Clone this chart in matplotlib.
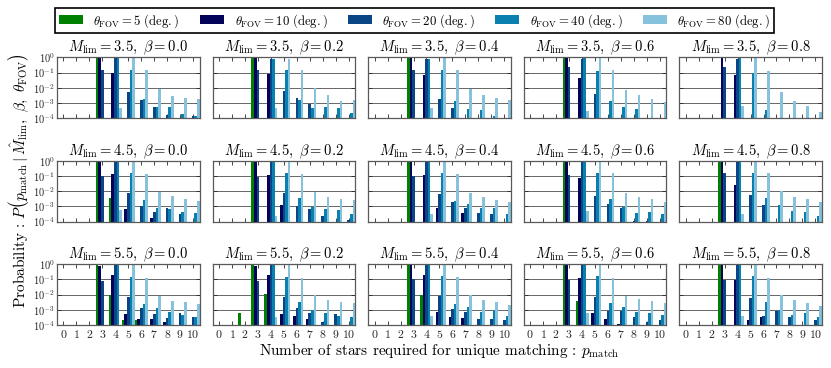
import numpy as np
import matplotlib
matplotlib.use('Agg')
import matplotlib.pyplot as plt

# LaTeX-like look without a TeX install
plt.rcParams.update({
    "font.family": "serif",
    "font.serif": ["cmr10"],
    "mathtext.fontset": "cm",
    "axes.formatter.use_mathtext": True,
    "axes.unicode_minus": False,
})

# ---------------------------------------------------------------------------------------------- #

p_match = np.arange(11)                 # number of stars required (x categories)
m_lim = [3.5, 4.5, 5.5]                 # rows
betas = [0.0, 0.2, 0.4, 0.6, 0.8]       # columns
fov = [5, 10, 20, 40, 80]               # series (deg.)
fov_colors = ['#008000', '#03035a', '#0a4585', '#0a80b0', '#86c2dc']

# Probabilities per panel: one row per FOV (5, 10, 20, 40, 80 deg.), one value per p_match (0..10)
P_35_00 = [[0, 0, 0, 1.0, 0, 0, 0, 0, 0, 0, 0],
           [0, 0, 0, 0.9, 0.09, 0, 0, 0, 0, 0, 0],
           [0, 0, 0, 0.14, 0.85, 5e-3, 1.5e-3, 5.6e-4, 1.7e-4, 0, 1.5e-4],
           [0, 0, 0, 0, 0.85, 0.16, 1.8e-3, 5.6e-4, 5.5e-4, 2e-4, 1.5e-4],
           [0, 0, 0, 0, 4.4e-4, 0.88, 0.14, 8.5e-3, 3e-3, 2e-3, 1.8e-3]]
P_35_02 = [[0, 0, 0, 1.0, 0, 0, 0, 0, 0, 0, 0],
           [0, 0, 0, 0.9, 0.087, 0, 0, 0, 0, 0, 0],
           [0, 0, 0, 0.16, 0.84, 5.8e-3, 2.1e-3, 8.6e-4, 0, 0, 0],
           [0, 0, 0, 0, 0.84, 0.16, 1.5e-3, 5e-4, 5.5e-4, 4.5e-4, 2.2e-4],
           [0, 0, 0, 0, 4.6e-4, 0.82, 0.15, 9.6e-3, 3.2e-3, 1.4e-3, 1.7e-3]]
P_35_04 = [[0, 0, 0, 1.0, 0, 0, 0, 0, 0, 0, 0],
           [0, 0, 0, 0.93, 0.072, 0, 0, 0, 0, 0, 0],
           [0, 0, 0, 0.16, 0.84, 1.9e-3, 4.6e-4, 0, 0, 1.1e-4, 0],
           [0, 0, 0, 0, 0.84, 0.15, 1.45e-3, 4e-4, 3.4e-4, 1.3e-4, 0],
           [0, 0, 0, 0, 4.4e-4, 0.86, 0.15, 8e-3, 3.2e-3, 2.3e-3, 1.6e-3]]
P_35_06 = [[0, 0, 0, 1.0, 0, 0, 0, 0, 0, 0, 0],
           [0, 0, 0, 0.96, 0.043, 0, 0, 0, 0, 0, 0],
           [0, 0, 0, 0.23, 0.77, 4e-3, 0, 0, 0, 0, 0],
           [0, 0, 0, 0, 0.88, 0.12, 1.4e-3, 5.3e-4, 4.2e-4, 0, 0],
           [0, 0, 0, 0, 2.9e-4, 0.85, 0.14, 7e-3, 3.5e-3, 1.8e-3, 1.2e-3]]
P_35_08 = [[0, 0, 0, 0, 0, 0, 0, 0, 0, 0, 0],
           [0, 0, 0, 0.93, 0.069, 0, 0, 0, 0, 0, 0],
           [0, 0, 0, 0.22, 0.78, 0, 0, 0, 0, 0, 0],
           [0, 0, 0, 0, 0.9, 0.1, 3.4e-4, 0, 0, 0, 0],
           [0, 0, 0, 0, 6.3e-4, 0.86, 0.13, 5.4e-3, 1.3e-3, 5.9e-4, 2.6e-4]]

P_45_00 = [[0, 0, 0, 0.996, 3.8e-3, 0, 0, 0, 0, 0, 0],
           [0, 0, 0, 0.85, 0.13, 7e-4, 0, 1.6e-4, 0, 0, 0],
           [0, 0, 0, 0.1, 0.88, 8e-3, 1.1e-3, 4.5e-4, 7.7e-4, 3.2e-4, 0],
           [0, 0, 0, 0, 0.83, 0.16, 2.6e-3, 7.7e-4, 6.5e-4, 4e-4, 3.8e-4],
           [0, 0, 0, 0, 5.6e-4, 0.84, 0.13, 9e-3, 4.7e-3, 3.1e-3, 2.3e-3]]
P_45_02 = [[0, 0, 0, 1.0, 0, 0, 0, 0, 0, 0, 0],
           [0, 0, 0, 0.88, 0.11, 1.25e-3, 0, 0, 0, 0, 0],
           [0, 0, 0, 0.09, 0.9, 7.2e-3, 1e-3, 6.3e-4, 2.2e-4, 0, 1.2e-4],
           [0, 0, 0, 0, 0.84, 0.16, 3.4e-3, 9e-4, 6.7e-4, 5.5e-4, 3e-4],
           [0, 0, 0, 0, 2.5e-4, 0.84, 0.13, 8.5e-3, 4e-3, 3.1e-3, 2.6e-3]]
P_45_04 = [[0, 0, 0, 1.0, 0, 0, 0, 0, 0, 0, 0],
           [0, 0, 0, 0.89, 0.11, 8e-4, 0, 3.8e-4, 0, 0, 0],
           [0, 0, 0, 0.1, 0.89, 6.6e-3, 1.8e-3, 8e-4, 3.8e-4, 3.1e-4, 0],
           [0, 0, 0, 0, 0.84, 0.16, 2.3e-3, 1.4e-3, 7.5e-4, 7.5e-4, 3.1e-4],
           [0, 0, 0, 0, 3.1e-4, 0.85, 0.14, 7.4e-3, 4.2e-3, 2.5e-3, 1.9e-3]]
P_45_06 = [[0, 0, 0, 1.0, 0, 0, 0, 0, 0, 0, 0],
           [0, 0, 0, 0.93, 0.07, 0, 0, 0, 0, 0, 0],
           [0, 0, 0, 0.11, 0.88, 5e-3, 1.45e-3, 7.7e-4, 1.1e-4, 1.1e-4, 0],
           [0, 0, 0, 0, 0.85, 0.15, 3e-3, 9e-4, 3.5e-4, 4.6e-4, 3e-4],
           [0, 0, 0, 0, 5.3e-4, 0.84, 0.15, 7.8e-3, 4e-3, 3e-3, 2e-3]]
P_45_08 = [[0, 0, 0, 1.0, 0, 0, 0, 0, 0, 0, 0],
           [0, 0, 0, 0.97, 0.024, 0, 0, 0, 0, 0, 0],
           [0, 0, 0, 0.16, 0.83, 5.2e-3, 1.3e-3, 0, 0, 0, 0],
           [0, 0, 0, 0, 0.85, 0.15, 3.4e-3, 1.25e-3, 5.2e-4, 4e-4, 2.5e-4],
           [0, 0, 0, 0, 3.1e-4, 0.84, 0.15, 1e-2, 4.2e-3, 3.2e-3, 2e-3]]

P_55_00 = [[0, 0, 0, 0.99, 1e-2, 2.1e-4, 2.1e-4, 0, 0, 0, 0],
           [0, 0, 0, 0.8, 0.19, 5.3e-4, 2.5e-4, 2.6e-4, 1.6e-4, 0, 0],
           [0, 0, 0, 0.08, 0.91, 6.5e-3, 1.25e-3, 5.3e-4, 2.7e-4, 6.3e-4, 3.3e-4],
           [0, 0, 0, 0, 0.82, 0.15, 2.3e-3, 1.25e-3, 7e-4, 4.8e-4, 3.3e-4],
           [0, 0, 0, 0, 0, 0.82, 0.13, 8e-3, 3.5e-3, 3.4e-3, 2.5e-3]]
P_55_02 = [[0, 0, 6.3e-4, 0.99, 1.07e-2, 0, 0, 0, 0, 0, 0],
           [0, 0, 0, 0.8, 0.19, 5.3e-4, 3.9e-4, 2.3e-4, 0, 0, 0],
           [0, 0, 0, 0.08, 0.91, 6.5e-3, 1.25e-3, 6.3e-4, 1.6e-4, 5.3e-4, 0],
           [0, 0, 0, 0, 0.82, 0.15, 3.2e-3, 1e-3, 5.7e-4, 3.9e-4, 3.3e-4],
           [0, 0, 0, 0, 3.5e-4, 0.82, 0.13, 1e-2, 4.2e-3, 3.2e-3, 2.6e-3]]
P_55_04 = [[0, 0, 0, 0.99, 9e-3, 0, 0, 0, 0, 0, 0],
           [0, 0, 0, 0.82, 0.18, 7e-4, 3.2e-4, 2.8e-4, 0, 0, 0],
           [0, 0, 0, 0.1, 0.88, 7.8e-3, 1.2e-3, 7.3e-4, 2.6e-4, 2.6e-4, 2.1e-4],
           [0, 0, 0, 0, 0.82, 0.17, 2.5e-3, 1.5e-3, 6.8e-4, 1e-3, 4e-4],
           [0, 0, 0, 0, 3.8e-4, 0.87, 0.15, 9.5e-3, 4.7e-3, 3e-3, 2.2e-3]]
P_55_06 = [[0, 0, 0, 1.0, 3.7e-3, 0, 0, 0, 0, 0, 0],
           [0, 0, 0, 0.87, 0.13, 5.8e-4, 2.5e-4, 1.1e-4, 0, 0, 0],
           [0, 0, 0, 0.09, 0.9, 7.2e-3, 8.7e-4, 7.9e-4, 3.5e-4, 1.5e-4, 2e-4],
           [0, 0, 0, 0, 0.86, 0.16, 2.8e-3, 1.45e-3, 7e-4, 6.5e-4, 4.3e-4],
           [0, 0, 0, 0, 6.5e-4, 0.84, 0.13, 8e-3, 4.8e-3, 3.7e-3, 2.6e-3]]
P_55_08 = [[0, 0, 0, 1.0, 0, 0, 0, 0, 0, 0, 0],
           [0, 0, 0, 0.91, 0.09, 2.1e-4, 3.5e-4, 0, 0, 0, 0],
           [0, 0, 0, 0.09, 0.9, 5.6e-3, 3.9e-4, 8.3e-4, 3.5e-4, 0, 2e-4],
           [0, 0, 0, 0, 0.86, 0.16, 3.2e-3, 9e-4, 4.6e-4, 6.5e-4, 3.5e-4],
           [0, 0, 0, 0, 3.9e-4, 0.84, 0.13, 9.3e-3, 4.2e-3, 2.6e-3, 1.9e-3]]

panels = [[P_35_00, P_35_02, P_35_04, P_35_06, P_35_08],
          [P_45_00, P_45_02, P_45_04, P_45_06, P_45_08],
          [P_55_00, P_55_02, P_55_04, P_55_06, P_55_08]]

# ---------------------------------------------------------------------------------------------- #

bar_w = 0.2
offsets = [-0.4, -0.2, 0.0, 0.2, 0.4]

fig, axes = plt.subplots(3, 5, figsize=(8.31, 3.68), dpi=100)
plt.subplots_adjust(left=0.0686, right=0.989, top=0.844, bottom=0.117, wspace=0.091, hspace=0.70)

handles = []
for i, m in enumerate(m_lim):
    for j, b in enumerate(betas):
        ax = axes[i, j]
        ax.set_yscale('log')
        for k in range(len(fov)):
            vals = np.array(panels[i][j][k], dtype=float)
            keep = vals > 0
            bars = ax.bar(p_match[keep] + offsets[k], vals[keep], width=bar_w,
                          color=fov_colors[k], linewidth=0)
            if i == 0 and j == 0:
                handles.append(bars)
        ax.set_xlim(-0.5, 10.5)
        ax.set_ylim(1e-4, 1e0)
        ax.set_xticks(p_match)
        ax.set_yticks([1e0, 1e-1, 1e-2, 1e-3, 1e-4])
        ax.minorticks_off()
        ax.yaxis.grid(True, color='0.4', linewidth=0.7)
        ax.set_axisbelow(True)
        ax.tick_params(direction='in', top=True, right=True, length=3, width=0.6,
                       pad=2, colors='0.15')
        ax.tick_params(axis='x', labelsize=8.5)
        ax.tick_params(axis='y', labelsize=7.5, pad=1.5)
        for s in ax.spines.values():
            s.set_color('0.35')
            s.set_linewidth(0.9)
        if j != 0:
            ax.set_yticklabels([])
        if i != 2:
            ax.set_xticklabels([])
        ax.set_title(r'$M_{\rm lim}=%.1f,\ \beta=%.1f$' % (m, b), fontsize=10.5, pad=4)

labels = [r'$\theta_{\rm FOV}=%d\ ({\rm deg.})$' % f for f in fov]
leg = fig.legend(handles, labels, loc='upper left', bbox_to_anchor=(55 / 831, 1 - 8 / 368),
                 ncol=5, fontsize=9.2, fancybox=False, edgecolor='k', framealpha=1,
                 handlelength=1.9, handleheight=0.7, handletextpad=0.8, columnspacing=1.6,
                 borderaxespad=0, borderpad=0.3)
leg.get_frame().set_linewidth(1.2)

fig.text(0.022, 0.51, r'Probability : $P\left(p_{\rm match}\,|\,\hat{M}_{\rm lim},\ \beta,\ \theta_{\rm FOV}\right)$',
         rotation=90, ha='center', va='center', fontsize=11)
fig.text(0.529, 0.048, r'Number of stars required for unique matching : $p_{\rm match}$',
         ha='center', va='center', fontsize=11)

plt.savefig('out.png', dpi=100)
